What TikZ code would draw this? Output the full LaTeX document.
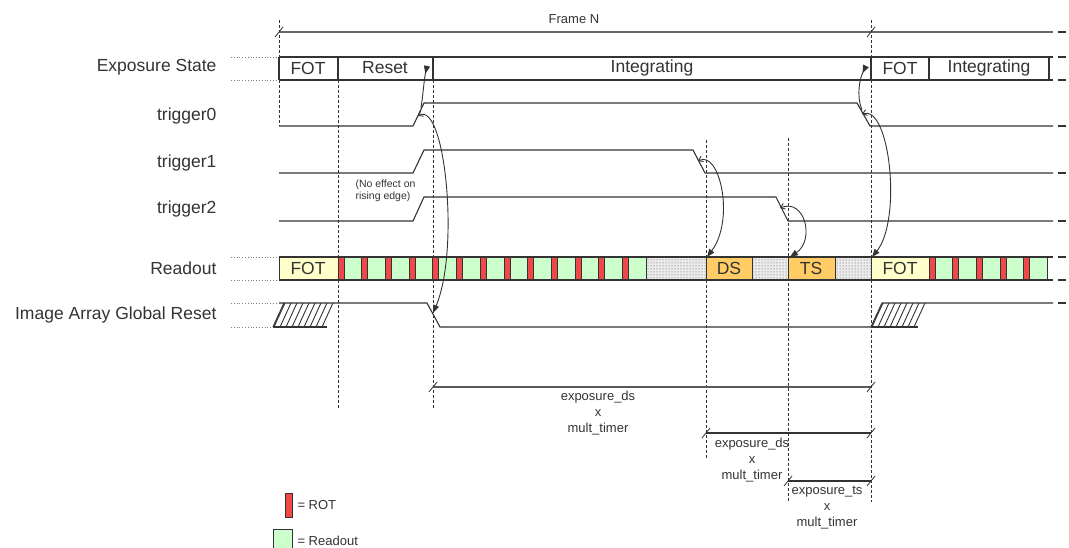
\documentclass[tikz,border=0pt]{standalone}
\usepackage{fontspec}
\setmainfont{Liberation Sans}
\usetikzlibrary{arrows.meta,patterns}
\definecolor{fotfill}{HTML}{FFFFCC}
\definecolor{rdofill}{HTML}{CCFFCC}
\definecolor{rotfill}{HTML}{F04848}
\definecolor{dsfill}{HTML}{FFCC66}
\definecolor{inkgray}{HTML}{333333}
\tikzset{
  sig/.style={line width=1.1pt,inkgray},
  vguide/.style={line width=0.9pt,inkgray,dash pattern=on 3pt off 2pt},
  lead/.style={line width=0.8pt,gray,dotted},
  cell/.style={draw=inkgray,line width=0.7pt},
  dotcell/.style={cell,preaction={fill=gray!15},pattern=dots,pattern color=black!70},
  rowlabel/.style={anchor=east,font=\fontsize{17.5}{20}\selectfont,text=inkgray},
  celltext/.style={font=\fontsize{17.5}{20}\selectfont,text=inkgray},
  small/.style={font=\fontsize{13}{16}\selectfont,text=inkgray,align=center},
  cause/.style={line width=0.9pt,inkgray,{Straight Barb[length=4pt,width=6pt]}-{Triangle[length=8pt,width=6pt]}},
  tocause/.style={line width=0.9pt,inkgray,-{Triangle[length=8pt,width=6pt,reversed]}},
  tick/.style={line width=0.8pt,inkgray}
}
\begin{document}
\begin{tikzpicture}[x=1pt,y=-1pt]
\useasboundingbox (0,0) rectangle (1069,548);

\node [rowlabel] (lblexp) at (220,67) {Exposure State};
\node [rowlabel] (lbltrig0) at (220,116) {trigger0};
\node [rowlabel] (lbltrig1) at (220,163) {trigger1};
\node [rowlabel] (lbltrig2) at (220,209) {trigger2};
\node [rowlabel] (lblrdo) at (220,268) {Readout};
\node [rowlabel] (lblreset) at (220,315) {Image Array Global Reset};

\foreach \y in {57,80,257,280,303,327}
  \draw [lead] (231,\y) -- (277,\y);

\foreach \x/\a/\b in {279/20/126,338/80/408,433/80/408,706/140/458,788/138/502,871/20/502}
  \draw [vguide] (\x,\a) -- (\x,\b);

\node [small] (frame) at (574,19) {Frame N};
\draw [line width=1.4pt,gray!80!black] (279,32) -- (1053,32);
\draw [tick] (275,37) -- (283,27);
\draw [tick] (867,37) -- (875,27);

\draw [sig] (279,57) -- (1053,57);
\draw [sig] (279,80) -- (1053,80);
\foreach \x in {279,338,433,871,929,1049}
  \draw [sig] (\x,57) -- (\x,80);
\node [celltext] (expfot) at (308,68) {FOT};
\node [celltext] (expreset) at (385,68) {Reset};
\node [celltext] (expint) at (652,68) {Integrating};
\node [celltext] (expfot2) at (900,68) {FOT};
\node [celltext] (expint2) at (989,68) {Integrating};

\draw [sig] (279,126) -- (413,126) -- (424,103) -- (857,103) -- (870,126) -- (1053,126);
\draw [sig] (279,173) -- (413,173) -- (424,150) -- (693,150) -- (705,173) -- (1053,173);
\draw [sig] (279,221) -- (413,221) -- (424,197) -- (776,197) -- (788,221) -- (1053,221);
\node [anchor=west,align=left,font=\fontsize{10.5}{11.5}\selectfont,text=inkgray] (noeffect) at (352,191) {(No effect on\\rising edge)};

\path [cell,fill=fotfill] (279,257) rectangle (338,280);
\foreach \i in {0,...,12} {
  \path [cell,fill=rotfill] ({338+23.7*\i},257) rectangle +(6,23);
  \path [cell,fill=rdofill] ({344+23.7*\i},257) rectangle +(17.7,23);
}
\path [dotcell] (646,257) rectangle (706,280);
\path [cell,fill=dsfill] (706,257) rectangle (752,280);
\path [dotcell] (752,257) rectangle (788,280);
\path [cell,fill=dsfill] (788,257) rectangle (835,280);
\path [dotcell] (835,257) rectangle (871,280);
\path [cell,fill=fotfill] (871,257) rectangle (929,280);
\foreach \i in {0,...,4} {
  \path [cell,fill=rotfill] ({929+23.7*\i},257) rectangle +(6,23);
  \path [cell,fill=rdofill] ({935+23.7*\i},257) rectangle +(17.7,23);
}
\draw [sig] (279,257) -- (1053,257);
\draw [sig] (279,280) -- (1053,280);
\node [celltext] (rdofot) at (308,268) {FOT};
\node [celltext] (rdods) at (729,268) {DS};
\node [celltext] (rdots) at (811,268) {TS};
\node [celltext] (rdofot2) at (900,268) {FOT};

\begin{scope}
  \clip (273,327) -- (284,303) -- (338,303) -- (327,327) -- cycle;
  \foreach \x in {256,262,...,340}
    \draw [line width=0.9pt,inkgray] (\x,327) -- (\x+11,303);
\end{scope}
\draw [sig] (273,327) -- (284,303);
\draw [sig] (273,327) -- (327,327);
\draw [sig] (279,303) -- (427,303) -- (440,327) -- (871,327);
\begin{scope}
  \clip (871,327) -- (882,303) -- (929,303) -- (918,327) -- cycle;
  \foreach \x in {854,860,...,930}
    \draw [line width=0.9pt,inkgray] (\x,327) -- (\x+11,303);
\end{scope}
\draw [sig] (871,327) -- (882,303) -- (1053,303);
\draw [sig] (871,327) -- (918,327);

\foreach \y in {32,57,80,126,173,221,257,280,303}
  \draw [sig] (1058,\y) -- (1066,\y);

\coordinate (t0rise) at (421,108);
\coordinate (t0risefoot) at (418,116);
\coordinate (t0fall) at (862,110);
\coordinate (t0fallfoot) at (862,114);
\coordinate (t1fall) at (698,161);
\coordinate (t2fall) at (780,208);
\coordinate (intstart) at (427,66);
\coordinate (intstart2) at (866,66);
\coordinate (resetfall) at (433,313);
\coordinate (fotstart) at (872,257);
\coordinate (dsstart) at (707,257);
\coordinate (tsstart) at (790,257);

\draw [tocause] (t0rise) .. controls (423,95) and (424,80) .. (intstart);
\draw [tocause] (t0fall) .. controls (856,95) and (860,78) .. (intstart2);
\draw [cause] (t0risefoot) .. controls (445,100) and (460,250) .. (resetfall);
\draw [cause] (t0fallfoot) .. controls (890,105) and (902,220) .. (fotstart);
\draw [cause] (t1fall) .. controls (720,150) and (735,220) .. (dsstart);
\draw [cause] (t2fall) .. controls (805,198) and (815,240) .. (tsstart);

\draw [line width=1.2pt,gray!70!black] (433,387) -- (871,387);
\draw [tick] (429,392) -- (437,382);
\draw [tick] (867,392) -- (875,382);
\node [small] (expds) at (598,413) {exposure\_ds\\x\\mult\_timer};

\draw [line width=1.2pt,inkgray] (706,433) -- (871,433);
\draw [tick] (702,438) -- (710,428);
\draw [tick] (867,438) -- (875,428);
\node [small] (expds2) at (752,460) {exposure\_ds\\x\\mult\_timer};

\draw [line width=1.2pt,inkgray] (788,481) -- (871,481);
\draw [tick] (784,486) -- (792,476);
\draw [tick] (867,486) -- (875,476);
\node [small] (expts) at (827,508) {exposure\_ts\\x\\mult\_timer};

\path [cell,fill=rotfill] (285,493) rectangle (292,517);
\node [small,anchor=west] (legrot) at (294,505) {= ROT};
\path [cell,fill=rdofill] (273,529) rectangle (292,548);
\node [small,anchor=west] (legrdo) at (294,541) {= Readout};
\end{tikzpicture}
\end{document}
